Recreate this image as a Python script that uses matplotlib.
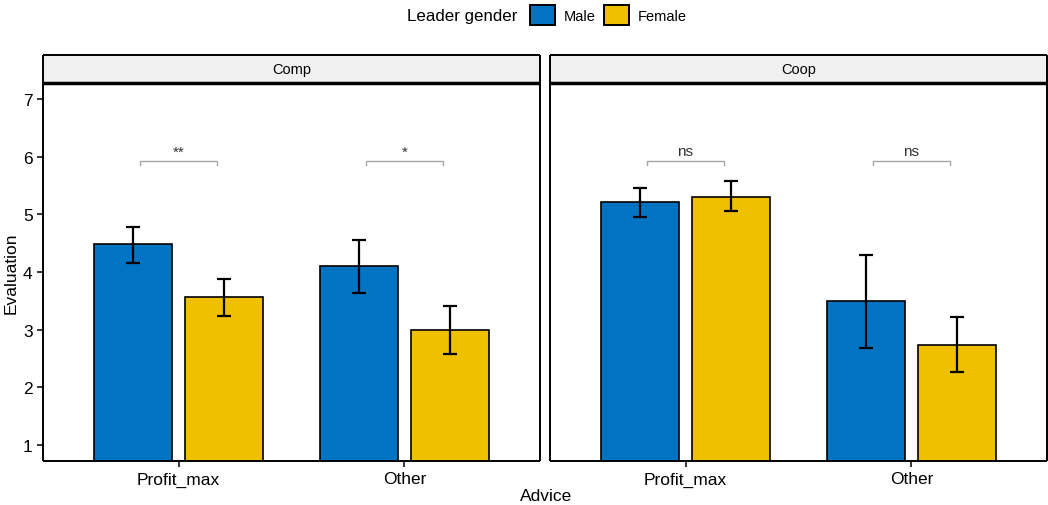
import matplotlib.pyplot as plt
from matplotlib.patches import Patch

plt.rcParams["font.family"] = ["Liberation Sans", "DejaVu Sans"]

# data
panels = ["Comp", "Coop"]
advice = ["Profit_max", "Other"]
genders = ["Male", "Female"]
colors = ["#0073C2", "#EFC000"]

means = {
    "Comp": {"Male": [4.49, 4.11], "Female": [3.57, 3.00]},
    "Coop": {"Male": [5.22, 3.50], "Female": [5.31, 2.74]},
}
err_low = {
    "Comp": {"Male": [4.16, 3.64], "Female": [3.24, 2.58]},
    "Coop": {"Male": [4.96, 2.68], "Female": [5.05, 2.27]},
}
err_high = {
    "Comp": {"Male": [4.78, 4.56], "Female": [3.88, 3.41]},
    "Coop": {"Male": [5.46, 4.30], "Female": [5.58, 3.22]},
}
signif = {"Comp": ["**", "*"], "Coop": ["ns", "ns"]}

fig = plt.figure(figsize=(10.48, 5.06), dpi=100)

W, H = 1048, 506
panel_x = [43, 550]
panel_w = 497
top, bottom, strip_top = 84, 462, 56

offsets = [-0.2, 0.2]
bar_w = 0.345

for p, name in enumerate(panels):
    ax = fig.add_axes([panel_x[p] / W, (H - bottom) / H, panel_w / W, (bottom - top) / H])
    sax = fig.add_axes([panel_x[p] / W, (H - top) / H, panel_w / W, (top - strip_top) / H])

    for g, gender in enumerate(genders):
        xs = [i + 1 + offsets[g] for i in range(len(advice))]
        m = means[name][gender]
        lo = [m[i] - err_low[name][gender][i] for i in range(len(m))]
        hi = [err_high[name][gender][i] - m[i] for i in range(len(m))]
        ax.bar(xs, m, width=bar_w, color=colors[g], edgecolor="black", linewidth=1.2, zorder=2)
        ax.errorbar(xs, m, yerr=[lo, hi], fmt="none", ecolor="black", elinewidth=1.6,
                    capsize=4.7, capthick=1.6, zorder=3)

    for i, lab in enumerate(signif[name]):
        x0, x1 = i + 1 - 0.17, i + 1 + 0.17
        ax.plot([x0, x0, x1, x1], [5.86, 5.93, 5.93, 5.86], color="#a6a6a6", lw=1.0, zorder=3)
        ax.text(i + 1, 5.97, lab, ha="center", va="bottom", fontsize=11, color="#333333")

    ax.set_xlim(0.4, 2.6)
    ax.set_ylim(0.72, 7.28)
    ax.set_xticks([1, 2])
    ax.set_xticklabels(advice, fontsize=12.5)
    ax.set_yticks(range(1, 8))
    ax.tick_params(axis="both", direction="out", length=4, width=1.1, colors="black", labelsize=12.5)
    if p == 0:
        ax.set_yticklabels([str(v) for v in range(1, 8)])
        ax.set_ylabel("Evaluation", fontsize=12.5, labelpad=3)
    else:
        ax.tick_params(axis="y", left=False, labelleft=False)
    for s in ax.spines.values():
        s.set_linewidth(1.4)
        s.set_color("black")
        s.set_capstyle("butt")

    sax.set_facecolor("#f0f0f0")
    sax.set_xticks([])
    sax.set_yticks([])
    for s in sax.spines.values():
        s.set_linewidth(1.4)
        s.set_color("black")
        s.set_capstyle("butt")
    sax.spines["bottom"].set_linewidth(2.5)
    sax.text(0.5, 0.5, name, ha="center", va="center", fontsize=10.5, transform=sax.transAxes)

fig.text(546 / W, 1 - 497 / H, "Advice", ha="center", va="center", fontsize=12.5)

# legend at top
fig.text(462 / W, 1 - 16 / H, "Leader gender", ha="center", va="center", fontsize=12.2)
handles = [Patch(facecolor=colors[i], edgecolor="black", linewidth=1.4, label=genders[i]) for i in range(2)]
fig.legend(handles=handles, loc="center left", bbox_to_anchor=(523 / W, 1 - 16 / H), ncol=2,
           frameon=False, fontsize=10.5, handlelength=1.7, handleheight=1.7,
           handletextpad=0.6, columnspacing=0.6, borderpad=0)

fig.savefig("out.png", dpi=100)
